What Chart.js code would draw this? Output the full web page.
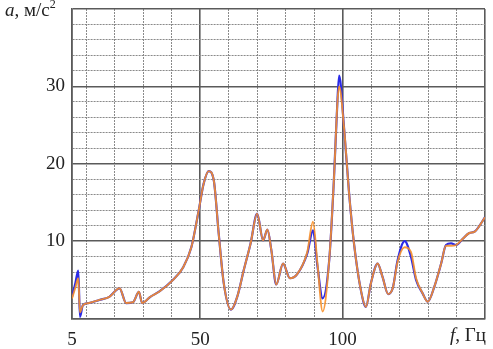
<!DOCTYPE html>
<html><head><meta charset="utf-8">
<script src="https://cdn.jsdelivr.net/npm/chart.js@4.4.0/dist/chart.umd.min.js"></script>
<style>
html,body{margin:0;padding:0;background:#fff;}
#wrap{position:relative;width:493px;height:349px;}
.lbl{position:absolute;font-family:"Liberation Serif","Times New Roman",serif;font-size:19px;line-height:19px;color:#222;white-space:nowrap;}
</style></head><body>
<div id="wrap">
<canvas id="c" width="493" height="349"></canvas>
<div class="lbl" style="left:5px;top:0px"><i>a</i>, м/с<span style="font-size:12px;position:relative;top:-8px">2</span></div>
<div class="lbl" style="left:450px;top:325px"><i>f</i>, Гц</div>
</div>
<script>
// Frequency, Hz
const freq = [5, 6.2, 7.2, 7.8, 8.8, 11, 14.6, 18.1, 21.7, 24, 26.4, 28.5, 29.6, 32.5, 35.7, 40.5, 44, 46.9, 49.5, 51.2, 53, 54.8, 56.5, 58.3, 60.8, 63, 65.3, 67.7, 70, 72.1, 73.6, 75, 76.7, 79.1, 81.5, 84, 87.6, 89.6, 91.2, 93, 95.3, 97, 98.2, 98.8, 100.5, 102.3, 104, 106.4, 108.2, 109.9, 112.3, 114, 116, 117.6, 119.3, 121.8, 124, 125.8, 128.1, 129.9, 132.2, 134.6, 136.3, 138.1, 139.9, 142.2, 144.5, 146.3, 148.1, 150];
// Acceleration, m/s^2 (blue series)
const accelBlue = [2.8, 4.6, 6.2, 0.2, 1.7, 2.0, 2.4, 2.8, 3.9, 2.0, 2.1, 3.45, 2.0, 2.8, 3.5, 5.0, 6.6, 9.2, 14.0, 17.4, 19.05, 17.8, 11.0, 4.5, 1.15, 2.8, 6.25, 9.7, 13.55, 10.1, 11.5, 8.8, 4.4, 7.1, 5.2, 5.7, 8.4, 11.4, 6.7, 2.6, 7.5, 18.3, 28.2, 31.4, 24.7, 16.1, 9.7, 3.7, 1.5, 4.5, 7.1, 5.4, 3.15, 3.9, 7.5, 10.0, 8.0, 5.0, 3.25, 2.17, 4.1, 7.1, 9.5, 9.7, 9.5, 10.3, 11.05, 11.2, 12.0, 13.1];
// Acceleration, m/s^2 (orange series)
const accelOrange = [2.6, 4.0, 5.2, 0.8, 1.7, 2.0, 2.4, 2.8, 3.9, 2.0, 2.1, 3.45, 2.0, 2.8, 3.5, 5.0, 6.6, 9.2, 14.0, 17.4, 19.05, 17.8, 11.0, 4.5, 1.15, 2.8, 6.25, 9.7, 13.55, 10.1, 11.5, 8.8, 4.4, 7.1, 5.2, 5.7, 8.6, 12.5, 7.0, 0.9, 7.5, 18.3, 28.0, 30.0, 24.7, 16.1, 9.7, 3.7, 1.5, 4.5, 7.1, 5.4, 3.15, 3.9, 7.3, 9.2, 8.6, 5.2, 3.25, 2.17, 4.1, 7.1, 9.4, 9.4, 9.5, 10.3, 11.05, 11.2, 12.0, 13.1];
const xGridValues = [5, 10, 20, 30, 40, 50, 60, 70, 80, 90, 100, 110, 120, 130, 140, 150];
const xLabelValues = [5, 50, 100];
const yLabelValues = [10, 20, 30];

const MAJOR = '#5a5a5a', MINOR = '#8a8a8a';
const isMajorX = v => v % 50 === 0 || v === 5;
const isMajorY = v => v % 10 === 0;
const font = {family: '"Liberation Serif","Times New Roman",serif', size: 19};

new Chart(document.getElementById('c'), {
  type: 'line',
  data: {
    datasets: [
      {data: freq.map((f, i) => ({x: f, y: accelOrange[i]})), borderColor: 'rgba(247,144,42,0.9)', borderWidth: 1.9, order: 0},
      {data: freq.map((f, i) => ({x: f, y: accelBlue[i]})), borderColor: '#2a2ae8', borderWidth: 2.2, order: 1}
    ]
  },
  options: {
    responsive: false,
    animation: false,
    layout: {padding: {top: 9, right: 8, bottom: 0, left: 0}},
    elements: {point: {radius: 0}, line: {cubicInterpolationMode: 'monotone'}},
    plugins: {legend: {display: false}, tooltip: {enabled: false}},
    scales: {
      x: {
        type: 'linear', min: 5, max: 150,
        afterBuildTicks: s => { s.ticks = xGridValues.map(v => ({value: v})); },
        afterFit: s => { s.height = 30.5; s.paddingLeft = 0; s.paddingRight = 0; },
        ticks: {autoSkip: false, maxRotation: 0, padding: 10, color: '#222', font,
          callback: v => xLabelValues.includes(v) ? String(v) : ''},
        grid: {drawTicks: false,
          color: c => c.tick && isMajorX(c.tick.value) ? MAJOR : MINOR,
          lineWidth: c => c.tick && isMajorX(c.tick.value) ? 1.6 : 1},
        border: {display: true, color: MAJOR, width: 1.6,
          dash: c => c.tick && !isMajorX(c.tick.value) ? [2, 1] : []}
      },
      y: {
        type: 'linear', min: 0, max: 40,
        ticks: {stepSize: 2, autoSkip: false, padding: 7, color: '#222', font,
          callback: v => yLabelValues.includes(v) ? String(v) : ''},
        afterFit: s => { s.width = 72; s.paddingTop = 0; s.paddingBottom = 0; },
        grid: {drawTicks: false,
          color: c => c.tick && isMajorY(c.tick.value) ? MAJOR : MINOR,
          lineWidth: c => c.tick && isMajorY(c.tick.value) ? 1.6 : 1},
        border: {display: true, color: MAJOR, width: 1.6,
          dash: c => c.tick && !isMajorY(c.tick.value) ? [2, 1] : []}
      }
    }
  }
});
</script>
</body></html>
